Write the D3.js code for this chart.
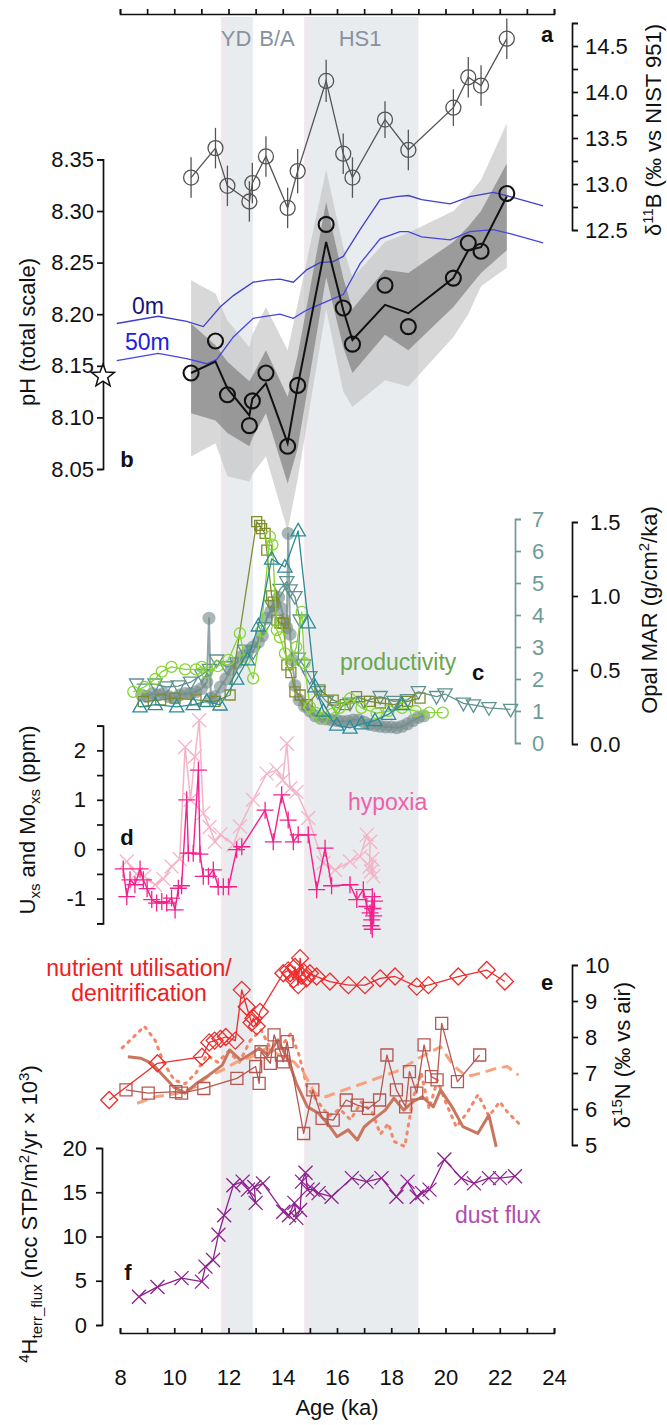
<!DOCTYPE html>
<html>
<head>
<meta charset="utf-8">
<script src="https://cdn.jsdelivr.net/npm/d3@7"></script>
<style>
  html, body { margin: 0; padding: 0; background: #fff; }
  svg { display: block; }
</style>
</head>
<body>
<svg id="chart" width="667" height="1425"></svg>
<script>
// ---------- Data ----------
// Climate intervals (ka)
const periods = [[11.73, 12.9], [14.8, 19.0]];
const periodNames = ["YD", "B/A", "HS1"];
const periodNameAges = [12.28, 13.79, 16.85];

// (a) boron isotopes
const ages = [10.62, 11.52, 11.96, 12.77, 12.88, 13.38, 14.18, 14.55, 15.6, 16.23, 16.57, 17.77, 18.63, 20.29, 20.84, 21.31, 22.26];
const d11B = [13.07, 13.39, 12.98, 12.81, 13.01, 13.30, 12.74, 13.14, 14.12, 13.33, 13.07, 13.70, 13.37, 13.83, 14.16, 14.07, 14.58];
const d11Berr = [0.22, 0.22, 0.22, 0.22, 0.22, 0.22, 0.22, 0.24, 0.23, 0.22, 0.22, 0.2, 0.22, 0.2, 0.22, 0.22, 0.22];

// (b) pH reconstruction
const pHpoints = [8.143, 8.174, 8.122, 8.092, 8.116, 8.143, 8.072, 8.131, 8.287, 8.206, 8.171, 8.228, 8.188, 8.235, 8.269, 8.261, 8.317];
const pHmean = [8.143, 8.154, 8.128, 8.102, 8.118, 8.133, 8.075, 8.130, 8.270, 8.204, 8.175, 8.209, 8.201, 8.235, 8.262, 8.265, 8.314];
const pHinnerHi = [8.191, 8.170, 8.154, 8.135, 8.14, 8.165, 8.120, 8.16, 8.309, 8.235, 8.205, 8.243, 8.240, 8.270, 8.285, 8.30, 8.346];
const pHinnerLo = [8.104, 8.097, 8.085, 8.072, 8.08, 8.104, 8.036, 8.07, 8.236, 8.168, 8.143, 8.18, 8.165, 8.207, 8.225, 8.24, 8.262];
const pHouterHi = [8.233, 8.220, 8.194, 8.168, 8.18, 8.207, 8.165, 8.21, 8.34, 8.265, 8.235, 8.27, 8.279, 8.30, 8.315, 8.33, 8.385];
const pHouterLo = [8.062, 8.075, 8.043, 8.038, 8.045, 8.062, 7.99, 8.04, 8.205, 8.125, 8.11, 8.136, 8.13, 8.178, 8.2, 8.227, 8.245];
const modernPH = 8.14;

// Surface-ocean pH curves at 0 m and 50 m
const age0m = [7.88, 9.41, 10.46, 11.07, 11.69, 12.18, 12.91, 13.41, 13.9, 14.39, 14.88, 15.37, 15.86, 16.23, 16.85, 17.59, 18.2, 18.63, 19.12, 20.17, 20.9, 21.76, 22.38, 23.6];
const pH0m = [8.191, 8.198, 8.193, 8.188, 8.207, 8.218, 8.231, 8.233, 8.234, 8.231, 8.243, 8.250, 8.251, 8.256, 8.282, 8.311, 8.314, 8.315, 8.311, 8.307, 8.314, 8.318, 8.314, 8.305];
const age50m = [7.88, 9.41, 10.46, 11.2, 11.56, 12.18, 12.91, 13.9, 14.39, 14.88, 15.86, 16.23, 16.85, 17.59, 18.32, 18.63, 19.12, 20.17, 20.9, 21.76, 22.38, 23.6];
const pH50m = [8.155, 8.162, 8.157, 8.152, 8.156, 8.178, 8.196, 8.2, 8.196, 8.204, 8.215, 8.219, 8.249, 8.273, 8.28, 8.280, 8.275, 8.272, 8.28, 8.282, 8.278, 8.269];

// (c) productivity records [age, value]
const prodGray = [[8.8,1.5],[9.0,1.45],[9.2,1.55],[9.4,1.5],[9.6,1.55],[9.8,1.45],[10.0,1.4],[10.2,1.5],[10.4,1.55],[10.6,1.55],[10.8,1.6],[11.0,1.7],[11.2,1.9],[11.28,3.9],[11.35,1.4],[11.5,1.45],[11.7,1.75],[11.9,2.0],[12.1,2.3],[12.3,2.5],[12.5,2.7],[12.7,2.85],[12.9,3.0],[13.1,3.15],[13.25,3.35],[13.4,3.9],[13.55,4.1],[13.7,4.3],[13.85,4.55],[13.95,4.2],[14.05,3.85],[14.15,3.6],[14.2,6.55],[14.27,3.4],[14.35,2.6],[14.45,1.8],[14.6,1.35],[14.8,1.15],[15.0,1.0],[15.2,0.85],[15.4,0.77],[15.6,0.75],[15.8,0.72],[16.0,0.7],[16.2,0.67],[16.4,0.68],[16.6,0.72],[16.8,0.72],[17.0,0.65],[17.2,0.58],[17.4,0.55],[17.6,0.52],[17.8,0.5],[18.0,0.5],[18.2,0.48],[18.4,0.52],[18.6,0.6],[18.8,0.7],[19.0,0.8],[19.2,0.85]];
const prodDown = [[8.61,1.84],[9.29,1.84],[9.7,1.75],[10.15,1.78],[10.6,1.9],[11.01,2.13],[11.3,2.3],[11.56,2.59],[11.93,2.38],[12.3,2.5],[12.6,2.9],[12.91,2.85],[13.3,3.6],[13.6,4.3],[13.9,4.8],[14.15,5.04],[14.27,4.78],[14.45,4.57],[14.64,3.84],[14.57,2.65],[14.76,2.44],[15.0,2.07],[15.3,1.6],[15.6,1.3],[16.0,1.1],[16.48,1.24],[17.0,1.3],[17.59,1.45],[18.1,1.3],[18.6,1.35],[19.0,1.6],[19.67,1.45],[19.98,1.53],[20.66,1.24],[21.03,1.19],[21.6,1.1],[22.4,1.05]];
const prodSquare = [[8.86,1.29],[9.5,1.35],[10.03,1.4],[10.8,1.35],[11.5,1.3],[12.06,1.5],[13.04,6.92],[13.15,6.8],[13.22,6.7],[13.35,6.55],[13.41,6.03],[13.59,4.6],[13.65,4.4],[13.78,3.84],[13.9,3.75],[14.02,3.74],[14.15,2.44],[14.3,2.2],[14.45,1.6],[14.64,1.5],[14.9,1.2],[15.37,1.66],[15.86,1.34],[16.3,1.2],[16.72,1.45],[17.2,1.3],[17.6,1.25],[18.1,1.2],[18.6,1.3],[19.06,1.4]];
const prodCircle = [[8.49,1.6],[8.9,1.75],[9.3,2.0],[9.54,2.23],[9.9,2.38],[10.4,2.3],[10.8,2.3],[11.01,2.38],[11.2,2.2],[11.6,2.4],[12.0,2.6],[12.42,3.43],[12.6,2.6],[12.91,2.02],[13.2,3.5],[13.53,6.45],[13.62,6.2],[13.78,3.53],[13.9,3.3],[14.08,2.8],[14.3,2.5],[14.5,3.0],[14.7,4.1],[14.8,2.5],[15.0,1.13],[15.2,0.95],[15.44,0.77],[15.8,0.9],[16.1,1.1],[16.48,1.39],[16.9,1.1],[17.46,0.93],[17.9,1.0],[18.4,1.1],[18.9,1.0],[19.4,0.95],[19.9,0.95]];
const prodUp = [[8.74,1.13],[9.3,1.2],[10.09,1.13],[10.7,1.2],[11.2,1.3],[11.69,1.19],[12.3,2.0],[12.7,2.6],[13.1,3.66],[13.59,5.75],[14.08,5.5],[14.57,6.63],[14.94,3.76],[15.19,1.76],[15.5,1.0],[15.99,0.56],[16.48,0.47],[16.9,0.6],[17.4,0.7],[17.9,0.9],[18.4,1.2]];

// (d) authigenic U and Mo [age, ppm]
const moxs = [[8.25,-0.25],[8.6,-0.5],[8.9,-0.55],[9.29,-0.72],[9.6,-0.6],[9.9,-0.35],[10.2,-0.2],[10.4,2.07],[10.6,1.0],[10.76,1.87],[10.92,2.61],[11.07,0.73],[11.3,0.45],[11.5,0.15],[11.7,0.3],[12.18,0.09],[12.42,0.46],[12.9,1.0],[13.41,1.53],[13.78,1.6],[14.0,1.4],[14.15,2.14],[14.27,1.23],[14.51,1.16],[14.94,0.63],[15.5,-0.28],[15.93,-0.42],[16.48,-0.25],[16.85,-0.15],[17.1,0.29],[17.22,0.15],[17.2,-0.35],[17.34,-0.55],[17.3,-0.2],[17.25,-0.45]];
const uxs = [[8.12,-0.4],[8.25,-0.96],[8.37,-0.62],[8.55,-0.72],[8.74,-0.4],[8.86,-0.62],[9.0,-0.8],[9.17,-1.02],[9.35,-1.09],[9.54,-1.06],[9.72,-1.09],[9.9,-0.99],[10.03,-1.23],[10.15,-0.79],[10.27,-0.74],[10.46,1.0],[10.52,-0.08],[10.7,-0.08],[10.89,1.6],[10.95,-0.1],[11.07,-0.55],[11.26,-0.55],[11.44,-0.42],[11.62,-0.76],[11.81,-0.76],[12.0,-0.76],[12.3,-0.01],[12.49,0.05],[13.35,0.79],[13.65,0.15],[13.96,1.1],[14.2,0.59],[14.39,0.15],[14.57,0.29],[14.94,0.29],[15.25,-0.82],[15.56,0.02],[15.8,-0.74],[16.48,-0.72],[16.73,-1.02],[16.97,-0.82],[17.1,-1.16],[17.22,-1.29],[17.28,-1.43],[17.25,-1.55],[17.3,-0.96],[17.32,-1.2],[17.35,-1.35],[17.3,-1.62],[17.38,-1.05]];

// (e) nitrogen isotopes [age, permil]
const d15nDiamond = [[7.6,6.25],[9.38,7.27],[11.02,7.45],[11.29,7.85],[11.49,7.9],[11.7,7.95],[11.9,8.0],[12.25,7.9],[12.49,9.31],[12.67,8.84],[12.85,8.4],[12.92,8.52],[13.04,8.3],[13.16,8.7],[14.02,9.77],[14.2,9.85],[14.27,9.77],[14.4,9.6],[14.45,9.95],[14.57,9.44],[14.64,10.19],[14.7,9.7],[14.76,9.81],[14.88,9.63],[15.0,9.77],[15.25,9.68],[15.74,9.54],[16.42,9.44],[17.03,9.44],[17.59,9.63],[18.14,9.68],[18.94,9.40],[19.37,9.44],[20.47,9.68],[21.52,9.86],[22.19,9.54]];
const d15nSquare = [[8.22,6.53],[9.04,6.44],[10.06,6.48],[10.27,6.44],[11.09,6.57],[12.31,6.85],[13.0,7.18],[13.13,6.71],[13.2,7.59],[13.54,7.27],[13.68,8.06],[13.95,7.5],[14.02,7.31],[14.16,7.87],[14.77,5.32],[15.11,6.53],[15.45,5.74],[15.86,5.69],[16.34,6.25],[16.75,6.11],[17.16,6.02],[17.57,6.25],[17.84,7.5],[18.19,6.53],[18.53,6.06],[18.67,7.04],[18.94,6.44],[19.21,7.78],[19.48,6.9],[19.69,6.81],[19.86,8.38],[20.44,6.76],[21.26,7.5]];
const d15nThick = [[8.29,7.45],[8.76,7.41],[9.17,7.27],[9.58,6.94],[10.0,6.6],[10.4,6.44],[10.8,6.7],[11.2,6.9],[11.77,7.22],[12.04,7.64],[12.45,7.36],[12.86,7.55],[13.13,7.69],[13.45,7.5],[13.82,7.92],[14.23,7.31],[14.5,6.71],[14.91,6.06],[15.32,5.88],[15.65,5.6],[16.0,5.23],[16.41,5.42],[16.75,5.14],[17.0,5.5],[17.23,5.65],[17.78,5.97],[18.1,6.3],[18.46,5.97],[18.8,6.2],[19.14,6.34],[19.55,6.06],[19.82,6.53],[20.24,6.06],[20.64,5.51],[21.19,5.32],[21.6,5.83],[21.87,4.95]];
const d15nDashed = [[8.63,6.16],[9.31,6.34],[10.13,6.44],[10.81,6.62],[11.22,6.9],[11.77,7.08],[12.31,7.31],[12.86,7.45],[13.41,7.69],[14.0,7.45],[14.41,7.31],[14.77,7.0],[15.18,6.44],[15.59,6.34],[16.27,6.53],[16.96,6.71],[17.64,6.9],[18.32,7.08],[19.0,7.41],[19.82,7.73],[20.3,7.2],[20.78,6.9],[21.33,7.0],[21.87,7.13],[22.28,7.18],[22.69,6.94]];
const d15nDotted = [[8.08,7.7],[8.5,8.0],[8.9,8.3],[9.3,7.9],[9.6,7.3],[10.0,6.8],[10.4,6.7],[10.8,7.0],[11.2,7.5],[11.6,7.3],[12.0,7.6],[12.4,7.3],[12.8,7.9],[13.2,8.2],[13.6,7.6],[14.0,7.8],[14.3,8.1],[14.6,7.5],[14.9,6.6],[15.3,6.2],[15.7,5.8],[16.1,6.0],[16.5,5.7],[16.9,6.2],[17.3,5.9],[17.6,5.3],[17.9,5.6],[18.1,5.1],[18.5,4.96],[18.8,6.3],[19.1,7.0],[19.4,6.0],[19.7,6.8],[20.0,6.2],[20.4,5.5],[20.8,5.9],[21.2,6.4],[21.6,5.8],[22.0,6.2],[22.3,5.9],[22.7,5.6]];

// (f) terrigenous 4He flux [age, flux]
const dust = [[8.7,3.2],[9.38,4.3],[10.27,5.3],[11.02,4.9],[11.15,6.6],[11.43,7.35],[11.63,10.2],[11.84,12.4],[12.18,15.8],[12.52,16.2],[12.72,15.3],[13.0,13.8],[12.95,15.6],[13.27,16.0],[14.02,12.8],[14.23,12.4],[14.43,13.8],[14.5,12.1],[14.64,13.0],[14.71,16.2],[14.84,17.2],[14.91,15.3],[15.11,15.3],[15.32,14.9],[15.8,14.5],[16.55,16.6],[17.09,16.2],[17.64,16.6],[18.19,14.5],[18.6,16.2],[18.94,14.5],[19.14,14.9],[19.41,15.3],[19.96,18.7],[20.58,16.6],[21.05,16.0],[21.6,16.6],[22.01,16.6],[22.56,16.8]];

// Axis tick values
const xTicks = d3.range(8, 25, 1);
const d11BTicks = d3.range(12.5, 14.76, 0.25);
const pHTicks = d3.range(0, 7).map(i => +(8.05 + i * 0.05).toFixed(2));
const prodTicks = d3.range(0, 8);
const opalTicks = [0, 0.5, 1.0, 1.5];
const hypTicks = d3.range(-1.5, 2.51, 0.5);
const d15nTicks = [5, 6, 7, 8, 9, 10];
const dustTicks = [0, 5, 10, 15, 20];

// ---------- Setup ----------
const FONT = '"Liberation Sans", Arial, Helvetica, sans-serif';
const svg = d3.select("#chart").attr("font-family", FONT);

const x = d3.scaleLinear().domain([8, 24]).range([120, 554]);
const yB = d3.scaleLinear().domain([12.5, 14.75]).range([230, 23]);
const yPH = d3.scaleLinear().domain([8.05, 8.35]).range([469, 159.4]);
const yProd = d3.scaleLinear().domain([0, 7]).range([743, 519]);
const yOpal = d3.scaleLinear().domain([0, 1.5]).range([744, 522]);
const yHyp = d3.scaleLinear().domain([-1.5, 2.5]).range([923.3, 725.7]);
const yN = d3.scaleLinear().domain([5, 10]).range([1145, 965]);
const yDust = d3.scaleLinear().domain([0, 20]).range([1325, 1148]);

// marker shapes centred on the origin
function markerPath(type, r) {
  switch (type) {
    case "square": return `M${-r},${-r}H${r}V${r}H${-r}Z`;
    case "up": return `M0,${-r}L${r * 0.95},${r * 0.68}L${-r * 0.95},${r * 0.68}Z`;
    case "down": return `M0,${r}L${r * 0.95},${-r * 0.68}L${-r * 0.95},${-r * 0.68}Z`;
    case "diamond": return `M0,${-r}L${r},0L0,${r}L${-r},0Z`;
    case "plus": return `M${-r},0H${r}M0,${-r}V${r}`;
    case "cross": return `M${-r},${-r}L${r},${r}M${r},${-r}L${-r},${r}`;
  }
}

function series(data, yScale, opt) {
  const g = svg.append("g");
  if (opt.line !== false) {
    g.append("path")
      .attr("d", d3.line().x(d => x(d[0])).y(d => yScale(d[1]))(data))
      .attr("fill", "none")
      .attr("stroke", opt.lineColor || opt.color)
      .attr("stroke-width", opt.lineWidth || 1.3)
      .attr("stroke-dasharray", opt.dash || null)
      .attr("stroke-linecap", opt.cap || "butt")
      .attr("stroke-linejoin", "round")
      .attr("opacity", opt.lineOpacity || 1);
  }
  if (opt.marker === "circle") {
    g.selectAll("circle").data(data).join("circle")
      .attr("cx", d => x(d[0])).attr("cy", d => yScale(d[1]))
      .attr("r", opt.size)
      .attr("fill", opt.fill || "none")
      .attr("fill-opacity", opt.fillOpacity || 1)
      .attr("stroke", opt.fill ? "none" : opt.color)
      .attr("stroke-width", opt.markerWidth || 1.3);
  } else if (opt.marker) {
    g.selectAll("path.m").data(data).join("path").attr("class", "m")
      .attr("transform", d => `translate(${x(d[0])},${yScale(d[1])})`)
      .attr("d", markerPath(opt.marker, opt.size))
      .attr("fill", "none")
      .attr("stroke", opt.color)
      .attr("stroke-width", opt.markerWidth || 1.3);
  }
  return g;
}

function styleAxis(g, color, size) {
  g.attr("font-family", FONT).attr("font-size", size || 22);
  g.selectAll("path, line").attr("stroke", color).attr("stroke-width", 1.7);
  g.selectAll("text").attr("fill", color);
  return g;
}

function label(txt, px, py, opt = {}) {
  return svg.append("text")
    .attr("x", px).attr("y", py)
    .attr("font-size", opt.size || 23)
    .attr("font-weight", opt.bold ? "bold" : null)
    .attr("text-anchor", opt.anchor || "start")
    .attr("fill", opt.color || "#111")
    .text(txt);
}

function vtitle(cx, cy, parts, color) {
  const t = svg.append("text")
    .attr("transform", `translate(${cx},${cy}) rotate(-90)`)
    .attr("text-anchor", "middle")
    .attr("font-size", 22)
    .attr("fill", color || "#111");
  let shift = 0;
  parts.forEach(p => {
    const target = p.sup ? -8 : p.sub ? 5 : 0;
    t.append("tspan")
      .attr("dy", target - shift)
      .attr("font-size", (p.sup || p.sub) ? 15 : 22)
      .text(p.t);
    shift = target;
  });
}

// ---------- Interval shading ----------
const bandTop = 17, bandBottom = 1333;
periods.forEach(([a0, a1]) => {
  svg.append("rect").attr("x", x(a0)).attr("y", bandTop)
    .attr("width", x(a1) - x(a0)).attr("height", bandBottom - bandTop)
    .attr("fill", "#e8ecef");
  svg.append("rect").attr("x", x(a0)).attr("y", bandTop)
    .attr("width", 5).attr("height", bandBottom - bandTop)
    .attr("fill", "#efe8ed");
});
periodNames.forEach((n, i) => label(n, x(periodNameAges[i]), 46, { anchor: "middle", color: "#8692a0", size: 22 }));

// ---------- Top and bottom age axes ----------
styleAxis(svg.append("g").attr("transform", "translate(0,14)")
  .call(d3.axisTop(x).tickValues(xTicks).tickSize(5).tickSizeOuter(5).tickFormat("")), "#111");

styleAxis(svg.append("g").attr("transform", `translate(0,${bandBottom})`)
  .call(d3.axisBottom(x).tickValues(xTicks).tickSize(-5).tickSizeOuter(-5).tickPadding(36)
    .tickFormat(d => d % 2 === 0 ? d : "")), "#111");
label("Age (ka)", x(16), 1415, { anchor: "middle", size: 22 });

// ---------- (b) pH uncertainty envelopes ----------
const idx = d3.range(ages.length);
svg.append("path")
  .attr("d", d3.area().x(i => x(ages[i])).y0(i => yPH(pHouterLo[i])).y1(i => yPH(pHouterHi[i]))(idx))
  .attr("fill", "rgb(195,195,195)").attr("fill-opacity", 0.65);
svg.append("path")
  .attr("d", d3.area().x(i => x(ages[i])).y0(i => yPH(pHinnerLo[i])).y1(i => yPH(pHinnerHi[i]))(idx))
  .attr("fill", "rgb(105,105,105)").attr("fill-opacity", 0.55);

// 0 m and 50 m curves
svg.append("path")
  .attr("d", d3.line().x((d, i) => x(age0m[i])).y(d => yPH(d))(pH0m))
  .attr("fill", "none").attr("stroke", "#3f3fc8").attr("stroke-width", 1.3);
svg.append("path")
  .attr("d", d3.line().x((d, i) => x(age50m[i])).y(d => yPH(d))(pH50m))
  .attr("fill", "none").attr("stroke", "#4545e0").attr("stroke-width", 1.3);
label("0m", 132, 314, { color: "#141478" });
label("50m", 125, 350, { color: "#2020e0" });

// ---------- (a) δ11B ----------
const gA = svg.append("g");
gA.append("path")
  .attr("d", d3.line().x((d, i) => x(ages[i])).y(d => yB(d))(d11B))
  .attr("fill", "none").attr("stroke", "#555").attr("stroke-width", 1.3);
gA.selectAll("line.err").data(d11B).join("line").attr("class", "err")
  .attr("x1", (d, i) => x(ages[i])).attr("x2", (d, i) => x(ages[i]))
  .attr("y1", (d, i) => yB(d - d11Berr[i])).attr("y2", (d, i) => yB(d + d11Berr[i]))
  .attr("stroke", "#555").attr("stroke-width", 1.3);
gA.selectAll("circle").data(d11B).join("circle")
  .attr("cx", (d, i) => x(ages[i])).attr("cy", d => yB(d)).attr("r", 7.5)
  .attr("fill", "none").attr("stroke", "#555").attr("stroke-width", 1.3);

styleAxis(svg.append("g").attr("transform", "translate(572,0)")
  .call(d3.axisRight(yB).tickValues(d11BTicks).tickSize(6).tickSizeOuter(6).tickPadding(7)
    .tickFormat(d => (Math.abs(d * 2 - Math.round(d * 2)) < 1e-6 && d < 14.6) ? d3.format(".1f")(d) : "")), "#111");
vtitle(661, 130, [{ t: "δ" }, { t: "11", sup: true }, { t: "B (‰ vs NIST 951)" }]);
label("a", 547, 42, { bold: true, anchor: "middle", size: 22 });

// ---------- (b) pH ----------
const gB = svg.append("g");
gB.append("path")
  .attr("d", d3.line().x((d, i) => x(ages[i])).y(d => yPH(d))(pHmean))
  .attr("fill", "none").attr("stroke", "#111").attr("stroke-width", 2);
gB.selectAll("circle").data(pHpoints).join("circle")
  .attr("cx", (d, i) => x(ages[i])).attr("cy", d => yPH(d)).attr("r", 7.5)
  .attr("fill", "none").attr("stroke", "#111").attr("stroke-width", 2.1);

styleAxis(svg.append("g").attr("transform", "translate(103,0)")
  .call(d3.axisLeft(yPH).tickValues(pHTicks).tickSize(6).tickSizeOuter(6).tickPadding(3)
    .tickFormat(d3.format(".2f"))), "#111");
vtitle(35, 332, [{ t: "pH (total scale)" }]);
label("b", 127, 467, { bold: true, anchor: "middle", size: 22 });

// modern pH star on the axis
const star = d3.range(10).map(k => {
  const r = k % 2 === 0 ? 12 : 5;
  const a = -Math.PI / 2 + k * Math.PI / 5;
  return [r * Math.cos(a), r * Math.sin(a)];
});
svg.append("path")
  .attr("transform", `translate(103,${yPH(modernPH)})`)
  .attr("d", d3.line()(star) + "Z")
  .attr("fill", "#fff").attr("stroke", "#111").attr("stroke-width", 1.5);

// ---------- (c) productivity ----------
series(prodGray, yProd, { color: "#93a5a5", lineWidth: 2, marker: "circle", size: 6.5, fill: "#758b8b", fillOpacity: 0.62 });
series(prodDown, yProd, { color: "#5f9290", marker: "down", size: 7.5 });
series(prodSquare, yProd, { color: "#7f8c2c", marker: "square", size: 5 });
series(prodCircle, yProd, { color: "#85d630", marker: "circle", size: 5.5 });
series(prodUp, yProd, { color: "#2b8b97", marker: "up", size: 7.5 });

styleAxis(svg.append("g").attr("transform", "translate(515,0)")
  .call(d3.axisRight(yProd).tickValues(prodTicks).tickSize(6).tickSizeOuter(6).tickPadding(11)
    .tickFormat(d3.format("d"))), "#6e9b97");
styleAxis(svg.append("g").attr("transform", "translate(572,0)")
  .call(d3.axisRight(yOpal).tickValues(opalTicks).tickSize(6).tickSizeOuter(6).tickPadding(12)
    .tickFormat(d3.format(".1f"))), "#111");
vtitle(657, 610, [{ t: "Opal MAR (g/cm" }, { t: "2", sup: true }, { t: "/ka)" }]);
label("productivity", 340, 670, { color: "#6aa64c" });
label("c", 478, 680, { bold: true, anchor: "middle", size: 22 });

// ---------- (d) hypoxia ----------
series(moxs, yHyp, { color: "#f5b3c6", marker: "cross", size: 7, lineWidth: 1.5 });
series(uxs, yHyp, { color: "#f5208c", marker: "plus", size: 8.5, lineWidth: 1.4 });

styleAxis(svg.append("g").attr("transform", "translate(103,0)")
  .call(d3.axisLeft(yHyp).tickValues(hypTicks).tickSize(6).tickSizeOuter(6).tickPadding(11)
    .tickFormat(d => Number.isInteger(d) ? String(d) : "")), "#111");
vtitle(35, 820, [{ t: "U" }, { t: "xs", sub: true }, { t: " and Mo" }, { t: "xs", sub: true }, { t: " (ppm)" }]);
label("hypoxia", 348, 810, { color: "#f060a8" });
label("d", 127, 845, { bold: true, anchor: "middle", size: 22 });

// ---------- (e) δ15N ----------
series(d15nDotted, yN, { color: "#f2876a", lineWidth: 3, dash: "2,6", cap: "round" });
series(d15nDashed, yN, { color: "#f6a37f", lineWidth: 3, dash: "11,6" });
series(d15nThick, yN, { color: "#c9765e", lineWidth: 3 });
series(d15nSquare, yN, { color: "#b85650", marker: "square", size: 6, lineWidth: 1.3 });
series(d15nDiamond, yN, { color: "#ee2c2c", marker: "diamond", size: 8.5, lineWidth: 1.3 });

styleAxis(svg.append("g").attr("transform", "translate(572,0)")
  .call(d3.axisRight(yN).tickValues(d15nTicks).tickSize(6).tickSizeOuter(6).tickPadding(7)
    .tickFormat(d3.format("d"))), "#111");
vtitle(630, 1055, [{ t: "δ" }, { t: "15", sup: true }, { t: "N (‰ vs air)" }]);
label("nutrient utilisation/", 139, 976, { anchor: "middle", color: "#ee2020" });
label("denitrification", 139, 1001, { anchor: "middle", color: "#ee2020" });
label("e", 547, 990, { bold: true, anchor: "middle", size: 22 });

// ---------- (f) dust flux ----------
series(dust, yDust, { color: "#8e1f8e", marker: "cross", size: 7, lineWidth: 1.3 });

styleAxis(svg.append("g").attr("transform", "translate(102,0)")
  .call(d3.axisLeft(yDust).tickValues(dustTicks).tickSize(6).tickSizeOuter(6).tickPadding(9)
    .tickFormat(d3.format("d"))), "#111");
vtitle(37, 1214, [{ t: "4", sup: true }, { t: "H" }, { t: "terr_flux", sub: true }, { t: " (ncc STP/m" }, { t: "2", sup: true }, { t: "/yr × 10" }, { t: "3", sup: true }, { t: ")" }]);
label("dust flux", 455, 1223, { color: "#b04cb0" });
label("f", 128, 1280, { bold: true, anchor: "middle", size: 22 });
</script>
</body>
</html>
